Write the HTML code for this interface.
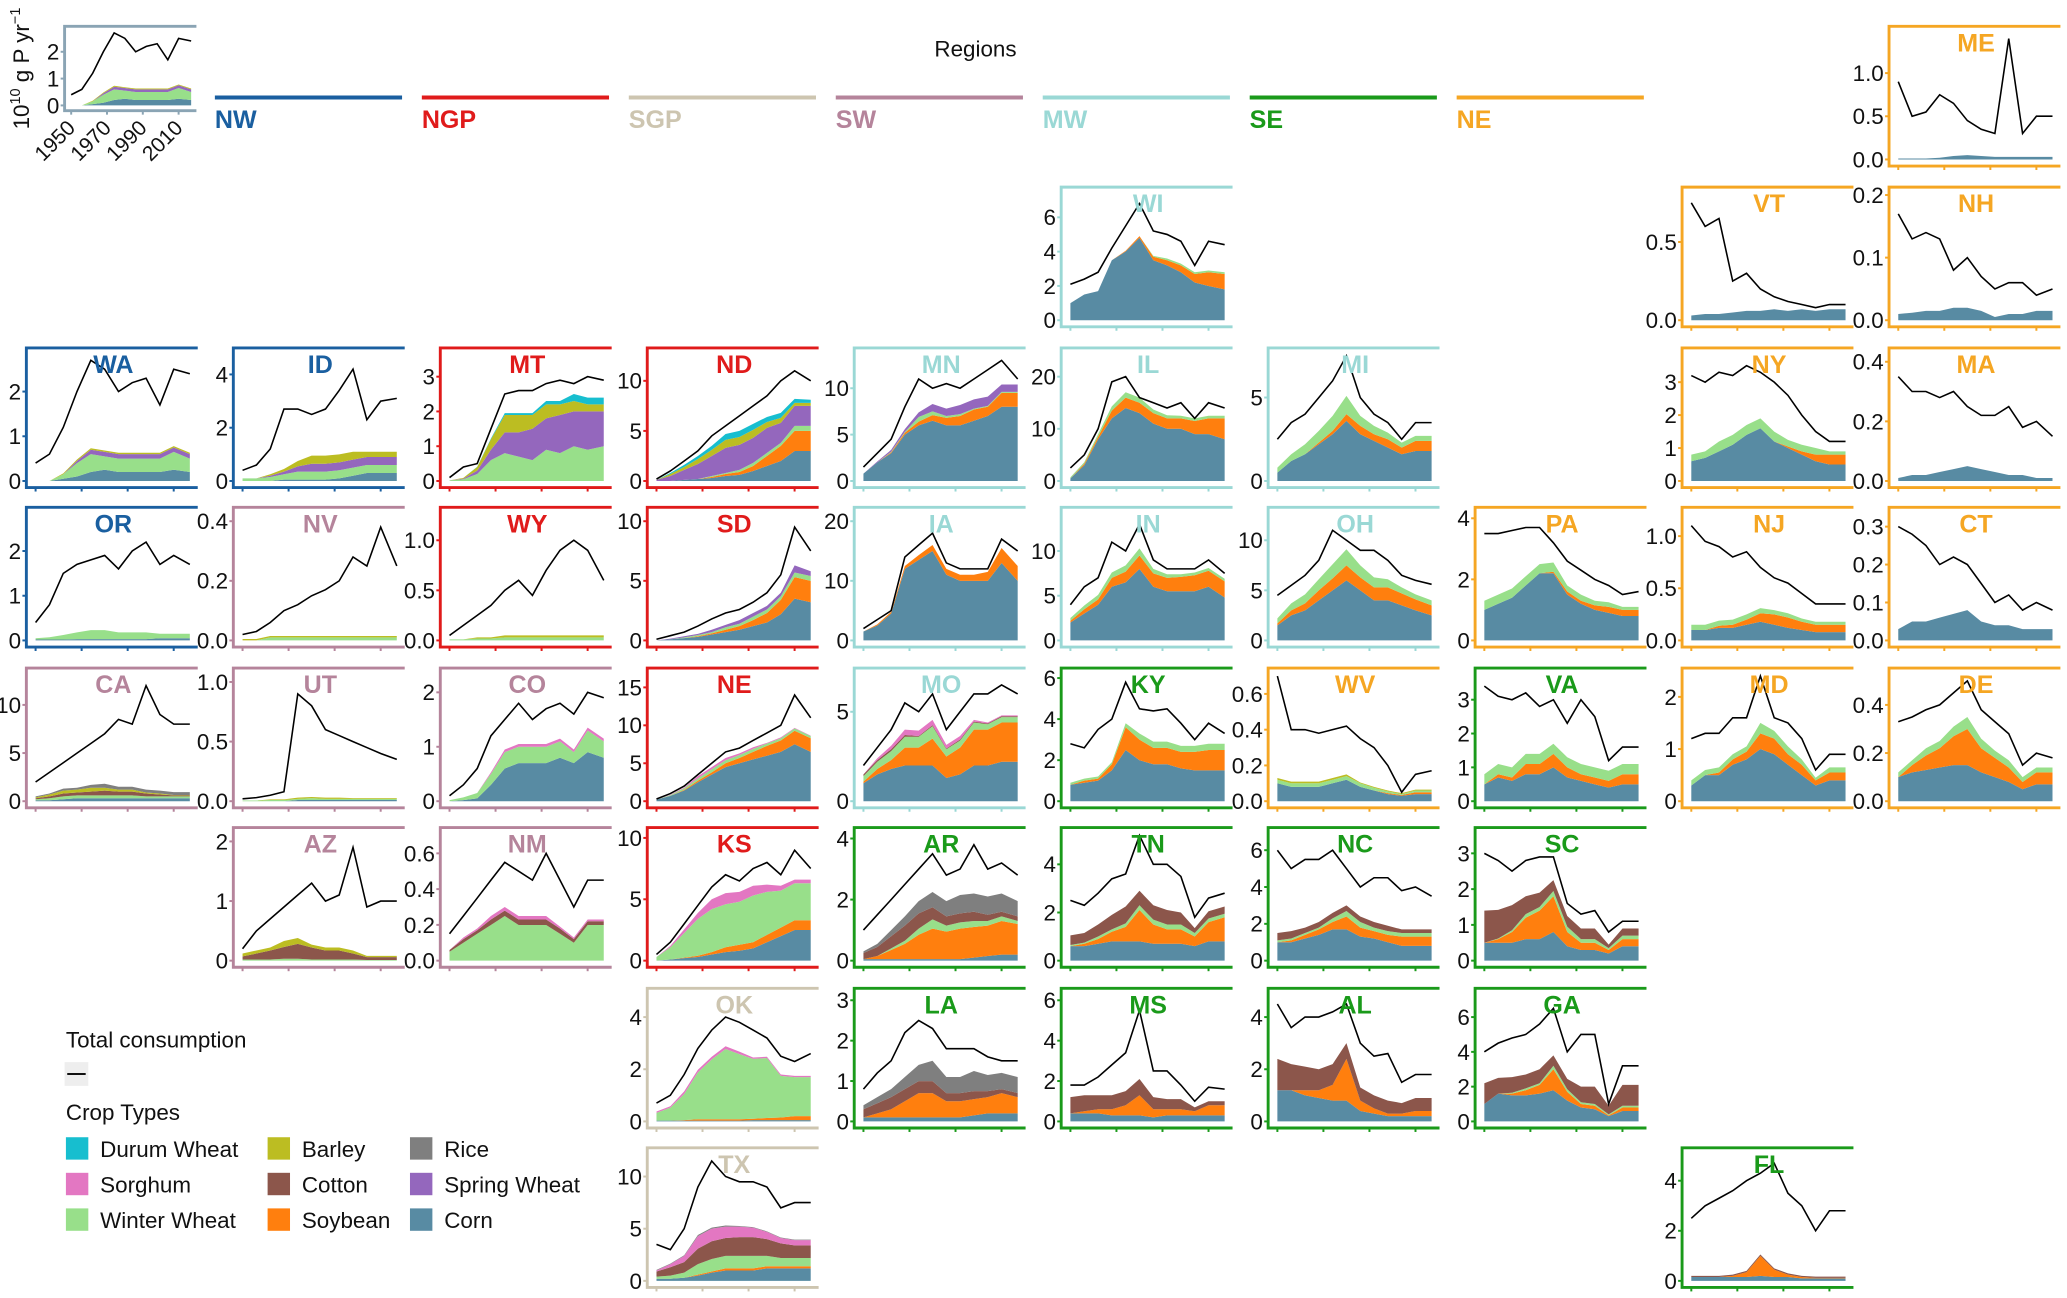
<!DOCTYPE html>
<html><head><meta charset="utf-8"><title>Regional P consumption by crop</title>
<style>
html,body{margin:0;padding:0;background:#fff;}
svg{display:block;font-family:"Liberation Sans",Arial,sans-serif;}
</style></head>
<body>
<svg id="chart" width="2067" height="1298" viewBox="0 0 1568 985" preserveAspectRatio="none" xmlns="http://www.w3.org/2000/svg">
  <text x="740" y="43" font-size="17" text-anchor="middle" fill="#111">Regions</text>
  <g id="headers"></g>
  <g id="panels"></g>
  <g id="legend">
    <text x="50" y="795" font-size="17" fill="#111">Total consumption</text>
    <rect x="49" y="806" width="18" height="18" fill="#eeeeee"/>
    <line x1="51" y1="815" x2="65" y2="815" stroke="#111" stroke-width="1.5"/>
    <text x="50" y="850" font-size="17" fill="#111">Crop Types</text>
    <g id="legend-items"></g>
  </g>
</svg>
<script>
// ---- data ----
const years = [1950,1956,1962,1968,1974,1980,1986,1992,1998,2004,2010,2017];
const xTickYears = [1950,1970,1990,2010];
const cropOrder = ["corn","soy","ww","cotton","sw","sorghum","barley","rice","durum"];
const cropNames = {corn:"Corn",soy:"Soybean",ww:"Winter Wheat",cotton:"Cotton",sw:"Spring Wheat",sorghum:"Sorghum",barley:"Barley",rice:"Rice",durum:"Durum Wheat"};
const cropColors = {corn:"#588ba3",soy:"#ff7f0e",ww:"#98df8a",cotton:"#8c564b",sw:"#9467bd",sorghum:"#e377c2",barley:"#bcbd22",rice:"#7f7f7f",durum:"#17becf"};
const regionNames = ["NW","NGP","SGP","SW","MW","SE","NE"];
const regionColors = ["#1a5fa0","#e01b1b","#cdc5b0","#b5849b","#9ad8d5","#1a9a1a","#f5a623"];

const WA_total=[0.4,0.6,1.2,2.0,2.7,2.5,2.0,2.2,2.3,1.7,2.5,2.4];
const WA_crops={corn:[0,0,0.05,0.1,0.2,0.25,0.2,0.2,0.2,0.2,0.25,0.2],ww:[0,0,0.1,0.3,0.4,0.3,0.3,0.3,0.3,0.3,0.4,0.3],sw:[0,0,0,0.05,0.1,0.1,0.1,0.1,0.1,0.1,0.1,0.1],barley:[0,0,0.02,0.03,0.03,0.03,0.03,0.03,0.03,0.03,0.03,0.03]};
const ID_total=[0.4,0.6,1.2,2.7,2.7,2.5,2.7,3.4,4.2,2.3,3.0,3.1];
const ID_crops={corn:[0,0,0,0.05,0.05,0.05,0.05,0.1,0.2,0.3,0.3,0.3],ww:[0.1,0.1,0.15,0.2,0.3,0.3,0.3,0.3,0.3,0.3,0.3,0.3],sw:[0,0,0.05,0.1,0.2,0.3,0.3,0.3,0.3,0.3,0.3,0.3],barley:[0,0,0.05,0.1,0.2,0.3,0.3,0.3,0.3,0.2,0.2,0.2]};
const MT_total=[0.1,0.4,0.5,1.5,2.5,2.6,2.6,2.8,2.9,2.8,3.0,2.9];
const MT_crops={ww:[0.02,0.05,0.2,0.6,0.8,0.7,0.6,0.9,0.8,1.0,0.9,1.0],sw:[0,0.02,0.1,0.3,0.6,0.7,0.9,0.9,1.1,1.0,1.1,1.0],barley:[0,0.02,0.1,0.3,0.5,0.5,0.4,0.4,0.3,0.3,0.2,0.2],durum:[0,0,0.01,0.02,0.05,0.05,0.05,0.1,0.1,0.2,0.2,0.2]};
const ND_total=[0.2,1,2,3,4.5,5.5,6.5,7.5,8.5,10,11,10];
const ND_crops={corn:[0,0,0.1,0.2,0.3,0.5,0.6,1,1.5,2,3,3],soy:[0,0,0,0,0.1,0.2,0.3,0.5,1,1.5,2,2],ww:[0,0,0,0,0.1,0.1,0.2,0.3,0.3,0.3,0.5,0.5],sw:[0.1,0.5,1,1.5,2,2.5,2.5,2.5,2.5,2,2,2],barley:[0,0.2,0.3,0.5,0.6,0.8,0.8,0.8,0.6,0.5,0.3,0.3],durum:[0,0.1,0.2,0.3,0.4,0.6,0.6,0.6,0.5,0.5,0.4,0.3]};
const MN_total=[1.5,3,4.5,8,11,10,10.5,10,11,12,13,11];
const MN_crops={corn:[0.8,2,3,5,6,6.5,6,6,6.5,7,8,8],soy:[0,0,0.1,0.2,0.4,0.6,0.8,1,1.2,1,1.5,1.5],ww:[0,0,0.05,0.1,0.5,0.4,0.2,0.2,0.1,0.1,0.1,0.1],sw:[0,0.1,0.2,0.3,0.5,0.8,0.8,1,1,1,0.8,0.8]};
const WI_total=[2.1,2.4,2.8,4.2,5.5,6.8,5.2,5,4.6,3.2,4.6,4.4];
const WI_crops={corn:[1,1.5,1.7,3.5,4,4.8,3.5,3.2,2.8,2.2,2,1.8],soy:[0,0,0,0,0.05,0.1,0.2,0.3,0.4,0.5,0.8,0.9],ww:[0,0,0,0,0,0,0.05,0.1,0.1,0.1,0.1,0.1]};
const IL_total=[2.5,5,10,19,20,16,15,14,15,12,15,14];
const IL_crops={corn:[0.5,3,8,12,14,13,11,10,10,9,9,8],soy:[0,0.3,0.5,1.5,2,2,2,2,2,2.5,3,4],ww:[0.2,0.3,0.5,0.8,1,1,0.7,0.6,0.5,0.5,0.5,0.5]};
const MI_total=[2.5,3.5,4,5,6,7.5,5,4,3.5,2.5,3.5,3.5];
const MI_crops={corn:[0.5,1.2,1.6,2.2,2.8,3.6,2.8,2.4,2,1.6,1.8,1.8],soy:[0,0,0,0.1,0.2,0.4,0.5,0.4,0.5,0.4,0.6,0.6],ww:[0.3,0.4,0.6,0.7,0.9,1.1,0.6,0.5,0.4,0.3,0.3,0.3]};
const NY_total=[3.2,3,3.3,3.2,3.5,3.3,3,2.6,2,1.5,1.2,1.2];
const NY_crops={corn:[0.6,0.7,0.9,1.1,1.4,1.6,1.2,1,0.8,0.6,0.5,0.5],soy:[0,0,0,0,0,0,0,0.05,0.1,0.2,0.3,0.3],ww:[0.2,0.2,0.3,0.3,0.3,0.3,0.3,0.2,0.2,0.2,0.1,0.1]};
const MA_total=[0.35,0.3,0.3,0.28,0.3,0.25,0.22,0.22,0.25,0.18,0.2,0.15];
const MA_crops={corn:[0.01,0.02,0.02,0.03,0.04,0.05,0.04,0.03,0.02,0.02,0.01,0.01]};
const OR_total=[0.4,0.8,1.5,1.7,1.8,1.9,1.6,2,2.2,1.7,1.9,1.7];
const OR_crops={corn:[0.02,0.02,0.02,0.03,0.03,0.03,0.03,0.03,0.03,0.05,0.05,0.05],ww:[0.03,0.05,0.1,0.15,0.2,0.2,0.15,0.15,0.15,0.1,0.1,0.1]};
const NV_total=[0.02,0.03,0.06,0.1,0.12,0.15,0.17,0.2,0.28,0.25,0.38,0.25];
const NV_crops={ww:[0,0,0.01,0.01,0.01,0.01,0.01,0.01,0.01,0.01,0.01,0.01],barley:[0.005,0.005,0.005,0.005,0.005,0.005,0.005,0.005,0.005,0.005,0.005,0.005]};
const WY_total=[0.05,0.15,0.25,0.35,0.5,0.6,0.45,0.7,0.9,1.0,0.9,0.6];
const WY_crops={ww:[0.01,0.01,0.02,0.02,0.03,0.03,0.03,0.03,0.03,0.03,0.03,0.03],barley:[0,0,0.01,0.01,0.02,0.02,0.02,0.02,0.02,0.02,0.02,0.02]};
const SD_total=[0.1,0.4,0.7,1.2,1.8,2.3,2.6,3.2,4,5.5,9.5,7.5];
const SD_crops={corn:[0,0.1,0.2,0.3,0.5,0.7,0.9,1.2,1.5,2.2,3.5,3.2],soy:[0,0,0,0.05,0.1,0.2,0.3,0.5,0.8,1.2,1.8,1.8],ww:[0,0,0.05,0.1,0.1,0.2,0.2,0.3,0.3,0.3,0.4,0.4],sw:[0,0.05,0.1,0.1,0.2,0.2,0.3,0.3,0.3,0.3,0.6,0.4]};
const IA_total=[2,3.5,5,14,16,18,13,12,12,12,17,15];
const IA_crops={corn:[1.5,2.5,4.5,12,13.5,15,11,10,10,10,13,10],soy:[0,0.2,0.3,0.5,0.8,1,1,1,1,1.5,2.5,2.5]};
const IN_total=[4,6,7,11,10,13,9,8,8,8,9,7.5];
const IN_crops={corn:[2,3,4,6,6.5,8,6,5.5,5.5,5.5,6,4.8],soy:[0.2,0.5,0.6,1,1.2,1.5,1.5,1.5,1.6,1.8,1.8,1.8],ww:[0.3,0.4,0.5,0.6,0.7,0.8,0.5,0.4,0.3,0.3,0.3,0.3]};
const OH_total=[4.5,5.5,6.5,8,11,10,9,9,8,6.5,6,5.6];
const OH_crops={corn:[1.5,2.5,3,4,5,6,5,4,4,3.5,3,2.5],soy:[0.2,0.5,0.7,1,1.2,1.5,1.3,1.3,1.3,1.2,1.1,1],ww:[0.5,0.7,0.9,1.1,1.4,1.6,1.2,1,0.8,0.6,0.5,0.5]};
const PA_total=[3.5,3.5,3.6,3.7,3.7,3.2,2.6,2.3,2,1.8,1.5,1.6];
const PA_crops={corn:[1,1.2,1.4,1.8,2.2,2.2,1.5,1.2,1,0.9,0.8,0.8],soy:[0,0,0,0,0,0.05,0.1,0.1,0.15,0.2,0.2,0.2],ww:[0.3,0.3,0.3,0.3,0.3,0.3,0.2,0.2,0.15,0.15,0.1,0.1]};
const NJ_total=[1.1,0.95,0.9,0.8,0.85,0.7,0.6,0.55,0.45,0.35,0.35,0.35];
const NJ_crops={corn:[0.1,0.1,0.12,0.12,0.15,0.18,0.15,0.12,0.1,0.08,0.08,0.08],soy:[0,0,0.02,0.03,0.05,0.08,0.1,0.1,0.08,0.07,0.07,0.07],ww:[0.05,0.05,0.05,0.05,0.05,0.05,0.04,0.04,0.03,0.03,0.03,0.03]};
const CT_total=[0.3,0.28,0.25,0.2,0.22,0.2,0.15,0.1,0.12,0.08,0.1,0.08];
const CT_crops={corn:[0.03,0.05,0.05,0.06,0.07,0.08,0.05,0.04,0.04,0.03,0.03,0.03]};
const CA_total=[2,3,4,5,6,7,8.5,8,12,9,8,8];
const CA_crops={corn:[0.1,0.1,0.2,0.3,0.3,0.3,0.3,0.3,0.3,0.3,0.3,0.3],ww:[0.1,0.2,0.3,0.3,0.3,0.3,0.3,0.3,0.2,0.2,0.2,0.2],cotton:[0.1,0.2,0.3,0.3,0.4,0.5,0.4,0.4,0.3,0.2,0.1,0.1],barley:[0.1,0.2,0.3,0.3,0.4,0.3,0.2,0.2,0.1,0.1,0.05,0.05],rice:[0.1,0.1,0.2,0.2,0.3,0.4,0.3,0.3,0.3,0.3,0.3,0.3]};
const UT_total=[0.02,0.03,0.05,0.08,0.9,0.8,0.6,0.55,0.5,0.45,0.4,0.35];
const UT_crops={corn:[0,0,0,0,0.01,0.01,0.01,0.01,0.01,0.01,0.01,0.01],ww:[0.005,0.005,0.01,0.01,0.01,0.015,0.01,0.01,0.01,0.01,0.01,0.01],barley:[0,0,0.005,0.005,0.01,0.01,0.01,0.01,0.005,0.005,0.005,0.005]};
const CO_total=[0.1,0.3,0.6,1.2,1.5,1.8,1.5,1.7,1.8,1.6,2,1.9];
const CO_crops={corn:[0,0.02,0.05,0.3,0.6,0.7,0.7,0.7,0.8,0.7,0.9,0.8],ww:[0.02,0.05,0.1,0.2,0.3,0.3,0.3,0.3,0.3,0.2,0.4,0.3],sorghum:[0,0,0,0.03,0.05,0.05,0.05,0.05,0.05,0.05,0.05,0.05]};
const NE_total=[0.3,1,2,3.5,5,6.5,7,8,9,10,14,11];
const NE_crops={corn:[0.2,0.7,1.4,2.5,3.5,4.5,5,5.5,6,6.5,7.5,6.5],soy:[0,0,0.1,0.2,0.3,0.5,0.7,1,1.3,1.5,1.8,1.8],ww:[0,0.1,0.2,0.3,0.4,0.4,0.4,0.4,0.3,0.3,0.3,0.3],sorghum:[0,0.05,0.1,0.3,0.3,0.3,0.2,0.2,0.1,0.1,0.05,0.05]};
const MO_total=[2,3,4,5.5,5,6,4,5,6,6,6.5,6];
const MO_crops={corn:[1,1.5,1.8,2,2,2,1.3,1.5,2,2,2.2,2.2],soy:[0.1,0.3,0.5,1,1,1.5,1.2,1.5,2,2,2.2,2.2],ww:[0.3,0.4,0.5,0.6,0.6,0.7,0.4,0.4,0.4,0.3,0.3,0.3],cotton:[0.1,0.1,0.1,0.1,0.05,0.05,0.05,0.05,0.05,0.05,0.05,0.05],sorghum:[0,0.1,0.2,0.3,0.3,0.3,0.2,0.2,0.1,0.05,0.05,0.05]};
const KY_total=[2.8,2.6,3.5,4,5.8,4.5,4.4,4.5,3.8,3,3.8,3.3];
const KY_crops={corn:[0.8,0.9,1,1.5,2.5,2,1.8,1.8,1.6,1.5,1.5,1.5],soy:[0,0.1,0.1,0.3,1.1,1,0.8,0.8,0.8,0.9,1,1],ww:[0.1,0.1,0.1,0.1,0.2,0.3,0.3,0.3,0.3,0.3,0.3,0.3]};
const WV_total=[0.7,0.4,0.4,0.38,0.4,0.42,0.35,0.3,0.2,0.05,0.15,0.17];
const WV_crops={corn:[0.1,0.08,0.08,0.08,0.1,0.12,0.08,0.06,0.04,0.03,0.04,0.04],soy:[0,0,0,0,0,0,0,0,0.005,0.005,0.01,0.01],ww:[0.02,0.02,0.02,0.02,0.02,0.02,0.02,0.015,0.01,0.005,0.01,0.01],barley:[0.01,0.01,0.01,0.01,0.01,0.01,0.005,0.005,0.005,0.005,0.005,0.005]};
const VA_total=[3.4,3.1,3,3.2,2.8,3,2.3,3,2.5,1.2,1.6,1.6];
const VA_crops={corn:[0.5,0.7,0.6,0.8,0.8,1,0.7,0.6,0.5,0.4,0.5,0.5],soy:[0,0.1,0.1,0.3,0.3,0.4,0.3,0.2,0.2,0.2,0.3,0.3],ww:[0.3,0.3,0.3,0.3,0.3,0.3,0.3,0.3,0.3,0.3,0.3,0.3]};
const MD_total=[1.2,1.3,1.3,1.6,1.6,2.4,1.6,1.5,1.2,0.6,0.9,0.9];
const MD_crops={corn:[0.3,0.5,0.5,0.7,0.8,1,0.9,0.7,0.5,0.3,0.4,0.4],soy:[0,0,0.05,0.1,0.15,0.3,0.3,0.2,0.2,0.1,0.15,0.15],ww:[0.1,0.1,0.1,0.1,0.1,0.2,0.15,0.15,0.1,0.05,0.1,0.1]};
const DE_total=[0.33,0.35,0.38,0.4,0.45,0.5,0.38,0.33,0.28,0.15,0.2,0.18];
const DE_crops={corn:[0.1,0.12,0.13,0.14,0.15,0.15,0.12,0.1,0.08,0.05,0.07,0.07],soy:[0,0.03,0.06,0.08,0.12,0.15,0.1,0.08,0.06,0.03,0.05,0.05],ww:[0.02,0.02,0.03,0.03,0.04,0.05,0.04,0.03,0.03,0.02,0.02,0.02]};
const AZ_total=[0.2,0.5,0.7,0.9,1.1,1.3,1,1.1,1.9,0.9,1,1];
const AZ_crops={ww:[0.02,0.02,0.02,0.03,0.03,0.02,0.02,0.02,0.02,0.01,0.01,0.01],cotton:[0.05,0.1,0.15,0.2,0.25,0.2,0.15,0.15,0.1,0.05,0.05,0.05],barley:[0.05,0.05,0.05,0.1,0.1,0.05,0.05,0.05,0.05,0.02,0.02,0.02]};
const NM_total=[0.15,0.25,0.35,0.45,0.55,0.5,0.45,0.6,0.45,0.3,0.45,0.45];
const NM_crops={ww:[0.05,0.1,0.15,0.2,0.25,0.2,0.2,0.2,0.15,0.1,0.2,0.2],cotton:[0.01,0.02,0.02,0.03,0.03,0.03,0.03,0.03,0.03,0.02,0.02,0.02],sorghum:[0,0.01,0.01,0.02,0.02,0.02,0.02,0.02,0.01,0.01,0.01,0.01]};
const KS_total=[0.5,1.5,3,4.5,6,7,6.5,7.5,8,7,9,7.5];
const KS_crops={corn:[0,0.1,0.2,0.3,0.5,0.7,0.8,1,1.5,2,2.5,2.5],soy:[0,0,0.05,0.1,0.2,0.4,0.5,0.5,0.6,0.7,0.8,0.8],ww:[0.3,1,2,3,3.5,3.5,3.5,3.8,3.5,3,3,3],sorghum:[0,0.1,0.3,0.5,0.8,0.9,0.8,0.8,0.6,0.4,0.3,0.3]};
const AR_total=[1,1.5,2,2.5,3,3.5,2.8,3,3.8,3,3.2,2.8];
const AR_crops={corn:[0.05,0.05,0.05,0.05,0.05,0.05,0.05,0.05,0.1,0.15,0.2,0.2],soy:[0,0.1,0.3,0.5,0.8,1,0.9,1,1,1,1.1,1],ww:[0,0,0.05,0.1,0.2,0.3,0.2,0.2,0.2,0.15,0.15,0.1],cotton:[0.2,0.3,0.4,0.5,0.5,0.4,0.3,0.3,0.3,0.2,0.15,0.15],rice:[0.05,0.1,0.2,0.3,0.4,0.5,0.5,0.6,0.6,0.6,0.6,0.5]};
const TN_total=[2.5,2.3,2.8,3.4,3.6,5.2,4,4,3.5,1.8,2.6,2.8];
const TN_crops={corn:[0.6,0.6,0.7,0.8,0.8,0.8,0.7,0.7,0.7,0.6,0.8,0.8],soy:[0,0.1,0.2,0.4,0.6,1.3,0.8,0.6,0.6,0.4,0.8,1],ww:[0.05,0.05,0.1,0.1,0.15,0.2,0.2,0.2,0.2,0.15,0.15,0.15],cotton:[0.4,0.4,0.5,0.6,0.7,0.6,0.6,0.6,0.5,0.2,0.3,0.3]};
const NC_total=[6,5,5.5,5.5,6,5,4,4.5,4.5,3.8,4,3.5];
const NC_crops={corn:[1,1,1.2,1.4,1.7,1.7,1.3,1.2,1,0.8,0.8,0.8],soy:[0,0.1,0.2,0.3,0.4,0.7,0.5,0.4,0.4,0.5,0.5,0.5],ww:[0.1,0.1,0.1,0.1,0.2,0.3,0.3,0.2,0.2,0.2,0.2,0.2],cotton:[0.4,0.4,0.3,0.3,0.3,0.3,0.3,0.3,0.3,0.2,0.2,0.2]};
const SC_total=[3,2.8,2.5,2.8,2.9,2.9,1.6,1.3,1.4,0.8,1.1,1.1];
const SC_crops={corn:[0.5,0.5,0.5,0.6,0.6,0.8,0.4,0.3,0.3,0.2,0.4,0.4],soy:[0,0.1,0.3,0.6,0.8,1,0.4,0.2,0.2,0.1,0.2,0.2],ww:[0,0.02,0.05,0.1,0.1,0.15,0.15,0.1,0.1,0.05,0.1,0.1],cotton:[0.9,0.8,0.7,0.5,0.4,0.3,0.3,0.3,0.3,0.1,0.2,0.2]};
const OK_total=[0.7,1,1.8,2.8,3.5,4,3.8,3.5,3.2,2.5,2.3,2.6];
const OK_crops={corn:[0.03,0.03,0.03,0.03,0.03,0.03,0.03,0.05,0.05,0.05,0.05,0.05],soy:[0,0,0.02,0.05,0.05,0.05,0.05,0.05,0.08,0.1,0.15,0.15],ww:[0.3,0.5,1,1.8,2.3,2.7,2.5,2.3,2.3,1.6,1.5,1.5],sorghum:[0.05,0.05,0.1,0.1,0.1,0.1,0.1,0.05,0.05,0.05,0.05,0.05]};
const LA_total=[0.8,1.2,1.5,2.2,2.5,2.3,1.8,1.8,1.8,1.6,1.5,1.5];
const LA_crops={corn:[0.1,0.1,0.1,0.1,0.1,0.1,0.1,0.1,0.15,0.2,0.2,0.2],soy:[0,0.1,0.2,0.4,0.6,0.6,0.4,0.4,0.4,0.4,0.5,0.4],cotton:[0.2,0.25,0.3,0.3,0.3,0.3,0.2,0.2,0.2,0.15,0.1,0.1],rice:[0.1,0.15,0.2,0.3,0.4,0.5,0.4,0.4,0.5,0.4,0.4,0.4]};
const MS_total=[1.8,1.8,2.2,2.8,3.4,5.5,2.5,2.5,1.8,1,1.7,1.6];
const MS_crops={corn:[0.4,0.4,0.4,0.3,0.3,0.3,0.2,0.3,0.3,0.3,0.3,0.3],soy:[0,0.1,0.2,0.3,0.5,1,0.4,0.3,0.3,0.2,0.5,0.5],cotton:[0.8,0.8,0.7,0.7,0.7,0.8,0.6,0.5,0.5,0.2,0.2,0.2]};
const AL_total=[4.5,3.6,4,4,4.2,4.5,3,2.5,2.6,1.5,1.8,1.8];
const AL_crops={corn:[1.2,1.2,1,0.9,0.8,0.8,0.4,0.3,0.2,0.2,0.2,0.2],soy:[0,0,0.2,0.3,0.6,1.6,0.4,0.2,0.1,0.1,0.2,0.2],cotton:[1.2,1,0.9,0.8,0.8,0.6,0.5,0.5,0.5,0.4,0.5,0.5]};
const GA_total=[4,4.5,4.8,5,5.6,6.5,4,5,5,1,3.2,3.2];
const GA_crops={corn:[1,1.6,1.5,1.5,1.6,1.8,1.2,0.8,0.7,0.3,0.6,0.6],soy:[0,0,0.1,0.3,0.5,1.2,0.5,0.2,0.2,0.05,0.2,0.2],ww:[0,0,0.05,0.1,0.1,0.2,0.15,0.1,0.1,0.05,0.1,0.1],cotton:[1.2,0.9,0.9,0.8,0.8,0.6,0.6,0.9,1,0.5,1.2,1.2]};
const TX_total=[3.5,3,5,9,11.5,10,9.5,9.5,9,7,7.5,7.5];
const TX_crops={corn:[0.2,0.2,0.3,0.5,0.8,1,1,1,1.2,1.2,1.2,1.2],soy:[0,0,0,0.1,0.1,0.2,0.2,0.2,0.2,0.2,0.2,0.2],ww:[0.2,0.3,0.5,1,1.2,1.2,1.2,1.2,1,0.8,0.8,0.8],cotton:[0.5,0.8,1,1.5,1.7,1.7,1.8,1.8,1.6,1.4,1.2,1.2],sorghum:[0.1,0.3,0.6,1.2,1.2,1.1,1,0.9,0.7,0.5,0.5,0.5],rice:[0.05,0.05,0.05,0.1,0.1,0.1,0.05,0.05,0.05,0.05,0.05,0.05]};
const FL_total=[2.5,3,3.3,3.6,4,4.3,4.7,3.5,3,2,2.8,2.8];
const FL_crops={corn:[0.15,0.15,0.15,0.15,0.15,0.2,0.15,0.15,0.1,0.1,0.1,0.1],soy:[0,0,0,0.05,0.2,0.8,0.3,0.1,0.05,0.02,0.02,0.02],cotton:[0.05,0.05,0.05,0.05,0.05,0.05,0.05,0.05,0.05,0.05,0.05,0.05]};
const ME_total=[0.9,0.5,0.55,0.75,0.65,0.45,0.35,0.3,1.4,0.3,0.5,0.5];
const ME_crops={corn:[0.01,0.01,0.01,0.02,0.04,0.05,0.04,0.03,0.03,0.03,0.03,0.03]};
const VT_total=[0.75,0.6,0.65,0.25,0.3,0.2,0.15,0.12,0.1,0.08,0.1,0.1];
const VT_crops={corn:[0.03,0.04,0.04,0.05,0.06,0.06,0.07,0.06,0.07,0.06,0.07,0.07]};
const NH_total=[0.17,0.13,0.14,0.13,0.08,0.1,0.07,0.05,0.06,0.06,0.04,0.05];
const NH_crops={corn:[0.01,0.012,0.015,0.015,0.02,0.02,0.015,0.005,0.01,0.01,0.015,0.015]};
const US_total=[0.4,0.6,1.2,2.0,2.7,2.5,2.0,2.2,2.3,1.7,2.5,2.4];
const US_crops=WA_crops;

// layout: [state, col, row, regionIndex, yTickLabels, axisMax]
const panels=[
 ["ME",9,0,6,["0.0","0.5","1.0"],1.45],
 ["WI",5,1,4,["0","2","4","6"],7.3],["VT",8,1,6,["0.0","0.5"],0.8],["NH",9,1,6,["0.0","0.1","0.2"],0.2],
 ["WA",0,2,0,["0","1","2"],2.8],["ID",1,2,0,["0","2","4"],4.7],["MT",2,2,1,["0","1","2","3"],3.6],["ND",3,2,1,["0","5","10"],12.5],["MN",4,2,4,["0","5","10"],13.5],["IL",5,2,4,["0","10","20"],24],["MI",6,2,4,["0","5"],7.5],["NY",8,2,6,["0","1","2","3"],3.8],["MA",9,2,6,["0.0","0.2","0.4"],0.42],
 ["OR",0,3,0,["0","1","2"],2.8],["NV",1,3,3,["0.0","0.2","0.4"],0.42],["WY",2,3,1,["0.0","0.5","1.0"],1.25],["SD",3,3,1,["0","5","10"],10.5],["IA",4,3,4,["0","10","20"],21],["IN",5,3,4,["0","5","10"],14],["OH",6,3,4,["0","5","10"],12.5],["PA",7,3,6,["0","2","4"],4.1],["NJ",8,3,6,["0.0","0.5","1.0"],1.2],["CT",9,3,6,["0.0","0.1","0.2","0.3"],0.33],
 ["CA",0,4,3,["0","5","10"],13],["UT",1,4,3,["0.0","0.5","1.0"],1.05],["CO",2,4,3,["0","1","2"],2.3],["NE",3,4,1,["0","5","10","15"],16.5],["MO",4,4,4,["0","5"],7],["KY",5,4,5,["0","2","4","6"],6.1],["WV",6,4,6,["0.0","0.2","0.4","0.6"],0.7],["VA",7,4,5,["0","1","2","3"],3.7],["MD",8,4,6,["0","1","2"],2.4],["DE",9,4,6,["0.0","0.2","0.4"],0.52],
 ["AZ",1,5,3,["0","1","2"],2.1],["NM",2,5,3,["0.0","0.2","0.4","0.6"],0.7],["KS",3,5,1,["0","5","10"],10.2],["AR",4,5,5,["0","2","4"],4.1],["TN",5,5,5,["0","2","4"],5.2],["NC",6,5,5,["0","2","4","6"],6.8],["SC",7,5,5,["0","1","2","3"],3.5],
 ["OK",3,6,2,["0","2","4"],4.8],["LA",4,6,5,["0","1","2","3"],3.1],["MS",5,6,5,["0","2","4","6"],6.2],["AL",6,6,5,["0","2","4"],4.8],["GA",7,6,5,["0","2","4","6"],7.2],
 ["TX",3,7,2,["0","5","10"],12],["FL",8,7,5,["0","2","4"],5]
];
const seriesTable={WA:[WA_total,WA_crops],ID:[ID_total,ID_crops],MT:[MT_total,MT_crops],ND:[ND_total,ND_crops],MN:[MN_total,MN_crops],WI:[WI_total,WI_crops],IL:[IL_total,IL_crops],MI:[MI_total,MI_crops],NY:[NY_total,NY_crops],MA:[MA_total,MA_crops],OR:[OR_total,OR_crops],NV:[NV_total,NV_crops],WY:[WY_total,WY_crops],SD:[SD_total,SD_crops],IA:[IA_total,IA_crops],IN:[IN_total,IN_crops],OH:[OH_total,OH_crops],PA:[PA_total,PA_crops],NJ:[NJ_total,NJ_crops],CT:[CT_total,CT_crops],CA:[CA_total,CA_crops],UT:[UT_total,UT_crops],CO:[CO_total,CO_crops],NE:[NE_total,NE_crops],MO:[MO_total,MO_crops],KY:[KY_total,KY_crops],WV:[WV_total,WV_crops],VA:[VA_total,VA_crops],MD:[MD_total,MD_crops],DE:[DE_total,DE_crops],AZ:[AZ_total,AZ_crops],NM:[NM_total,NM_crops],KS:[KS_total,KS_crops],AR:[AR_total,AR_crops],TN:[TN_total,TN_crops],NC:[NC_total,NC_crops],SC:[SC_total,SC_crops],OK:[OK_total,OK_crops],LA:[LA_total,LA_crops],MS:[MS_total,MS_crops],AL:[AL_total,AL_crops],GA:[GA_total,GA_crops],TX:[TX_total,TX_crops],FL:[FL_total,FL_crops],ME:[ME_total,ME_crops],VT:[VT_total,VT_crops],NH:[NH_total,NH_crops]};

// ---- drawing ----
const NS="http://www.w3.org/2000/svg";
function mk(tag,attrs,parent){const e=document.createElementNS(NS,tag);for(const k in attrs)e.setAttribute(k,attrs[k]);if(parent)parent.appendChild(e);return e;}
const colX=c=>20+c*157, rowY=r=>[20,142,264,385,507,628,750,871][r];

function drawPanel(g,x0,y0,w,h,color,total,crops,ticks,label,opts){
  const zeroOff=opts.zeroOff, topOff=opts.topOff, xs=opts.xs, xe=opts.xe;
  const cum0=years.map(()=>0);
  cropOrder.forEach(c=>{if(crops[c])crops[c].forEach((v,i)=>cum0[i]+=v);});
  const ymax=Math.max(opts.ymax||0,...total,...cum0);
  const xS=yr=>x0+xs+(yr-1950)*(xe-xs)/(2017-1950);
  const yS=v=>y0+zeroOff-v/ymax*(zeroOff-topOff);
  const cum=years.map(()=>0);
  cropOrder.forEach(c=>{
    const vals=crops[c]; if(!vals)return;
    const lower=cum.slice(); vals.forEach((v,i)=>cum[i]+=v);
    let pts=years.map((yr,i)=>xS(yr).toFixed(1)+","+yS(cum[i]).toFixed(1));
    for(let i=years.length-1;i>=0;i--)pts.push(xS(years[i]).toFixed(1)+","+yS(lower[i]).toFixed(1));
    const p=mk("polygon",{points:pts.join(" "),fill:cropColors[c]},g);
    
    
  });
  const line=mk("polyline",{points:years.map((yr,i)=>xS(yr).toFixed(1)+","+yS(total[i]).toFixed(1)).join(" "),fill:"none",stroke:"#000","stroke-width":1.2},g);
  
  
  const fr=mk("path",{d:`M${x0+w},${y0}H${x0}V${y0+h}H${x0+w}`,fill:"none",stroke:color,"stroke-width":2.2},g);
  
  
  ticks.forEach(t=>{
    const v=parseFloat(t); if(v>ymax*1.04)return;
    const y=yS(v);
    mk("line",{x1:x0-3,x2:x0,y1:y,y2:y,stroke:color,"stroke-width":1.5},g);
    const tx=mk("text",{x:x0-4,y:y+6,"font-size":opts.fs,"text-anchor":"end",fill:"#111"},g);
    tx.textContent=t;
    
    
  });
  xTickYears.forEach(yr=>{const x=xS(yr);mk("line",{x1:x,x2:x,y1:y0+h,y2:y0+h+3,stroke:color,"stroke-width":1.5},g);});
  return xS;
}

const pg=document.getElementById("panels");
panels.forEach(p=>{
  const [st,c,r,ri,ticks,ymax]=p; const [tot,crops]=seriesTable[st];
  const x0=colX(c), y0=rowY(r), color=regionColors[ri];
  const g=mk("g",{},pg);
  
  
  drawPanel(g,x0,y0,130,106,color,tot,crops,ticks,st,{zeroOff:101,topOff:6,xs:7,xe:124,fs:17,ymax:ymax});
  const lb=mk("text",{x:x0+66,y:y0+19,"font-size":19,"font-weight":"bold","text-anchor":"middle",fill:color},g);
  lb.textContent=st;
  
  
});

(function(){
  const g=mk("g",{},pg);
  
  
  const xS=drawPanel(g,49,20,100,64,"#8aa4b4",US_total,US_crops,["0","1","2"],"example",{zeroOff:60,topOff:3,xs:5,xe:96,fs:17,ymax:2.8});
  xTickYears.forEach(yr=>{
    const x=xS(yr);
    const t=mk("text",{x:x+4,y:98,"font-size":16,"text-anchor":"end",fill:"#111",transform:`rotate(-45 ${x+4} 98)`},g);
    t.textContent=String(yr);
    
    
  });
  const yt=mk("text",{x:0,y:0,"font-size":17,"text-anchor":"middle",fill:"#111",transform:"translate(22,52) rotate(-90)"},g);
  yt.innerHTML='10<tspan font-size="11" dy="-7">10</tspan><tspan dy="7"> g P yr</tspan><tspan font-size="11" dy="-7">−1</tspan>';
  
  
})();

const hg=document.getElementById("headers");
regionNames.forEach((n,i)=>{
  const x=163+i*157;
  const l=mk("line",{x1:x,x2:x+142,y1:74,y2:74,stroke:regionColors[i],"stroke-width":3},hg);
  
  
  const t=mk("text",{x:x,y:97,"font-size":19,"font-weight":"bold",fill:regionColors[i]},hg);
  t.textContent=n;
  
  
});

const lgOrder=[["durum","sorghum","ww"],["barley","cotton","soy"],["rice","sw","corn"]];
const lgX=[50,203,311], lgY=[871,898,925];
const li=document.getElementById("legend-items");
lgOrder.forEach((col,ci)=>col.forEach((c,ri)=>{
  const r=mk("rect",{x:lgX[ci],y:lgY[ri]-8,width:17,height:17,fill:cropColors[c]},li);
  
  
  const t=mk("text",{x:lgX[ci]+26,y:lgY[ri]+7,"font-size":17,fill:"#111"},li);
  t.textContent=cropNames[c];
  
  
}));
</script>
</body></html>
